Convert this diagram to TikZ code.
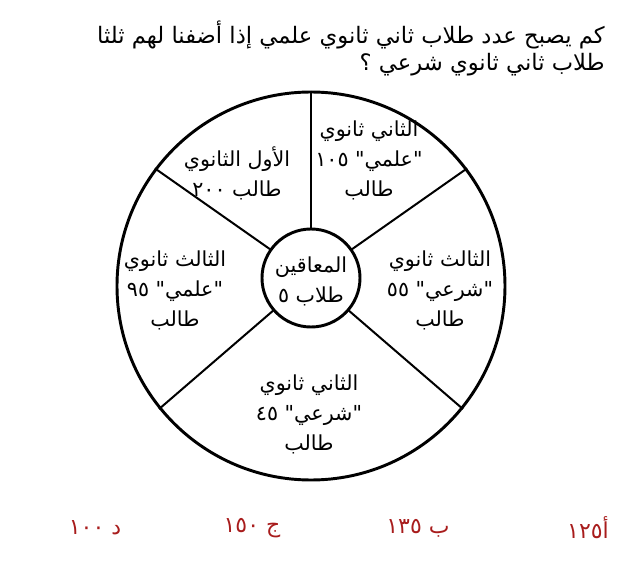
\documentclass[tikz,border=0pt]{standalone}
\usepackage{fontspec}
\newfontfamily\arabicfont[Script=Arabic]{DejaVu Sans}
\TeXXeTstate=1
\definecolor{ansred}{RGB}{168,28,28}
\tikzset{
  artext/.style={font=\arabicfont\fontsize{15.5}{22.5}\selectfont, align=center, inner sep=0pt},
  titletext/.style={font=\arabicfont\fontsize{17}{18}\selectfont, inner sep=0pt},
  anstext/.style={font=\arabicfont\fontsize{16.5}{18}\selectfont, inner sep=0pt, text=ansred},
  spoke/.style={line width=1.5pt},
}
\begin{document}
\begin{tikzpicture}[x=0.75pt,y=-0.75pt]
\useasboundingbox (0,0) rectangle (637,585);
\node[titletext, anchor=base east] (t1) at (605,44) {\beginR كم يصبح عدد طلاب ثاني ثانوي علمي إذا أضفنا لهم ثلثا\endR};
\node[titletext, anchor=base east] (t2) at (605,71) {\beginR طلاب ثاني ثانوي شرعي ؟\endR};
\node[circle, draw, line width=2.2pt, minimum size=388*0.75pt, inner sep=0pt] (wheel) at (311,286) {};
\coordinate (hc) at (311,278);
\foreach \a in {90,37,143,219,321}{
  \draw[spoke] (wheel.\a) -- (hc);
}
\node[circle, draw, fill=white, line width=2.2pt, minimum size=98*0.75pt, inner sep=0pt] (hub) at (hc) {};
\node[artext] (hubtxt) at (311,281) {\beginR المعاقين\endR\\\beginR طلاب ٥\endR};
\node[artext] (s1) at (237,173) {\beginR الأول الثانوي\endR\\\beginR طالب ٢٠٠\endR};
\node[artext] (s2) at (369,160) {\beginR الثاني ثانوي\endR\\\beginR "علمي" ١٠٥\endR\\\beginR طالب\endR};
\node[artext] (s3) at (175,290) {\beginR الثالث ثانوي\endR\\\beginR "علمي" ٩٥\endR\\\beginR طالب\endR};
\node[artext] (s4) at (440,290) {\beginR الثالث ثانوي\endR\\\beginR "شرعي" ٥٥\endR\\\beginR طالب\endR};
\node[artext] (s5) at (309,414) {\beginR الثاني ثانوي\endR\\\beginR "شرعي" ٤٥\endR\\\beginR طالب\endR};
\node[anstext] (a1) at (588,528) {\beginR أ١٢٥\endR};
\node[anstext] (a2) at (418,528) {\beginR ب ١٣٥\endR};
\node[anstext] (a3) at (252,528) {\beginR ج ١٥٠\endR};
\node[anstext] (a4) at (95,528) {\beginR د ١٠٠\endR};
\end{tikzpicture}
\end{document}
